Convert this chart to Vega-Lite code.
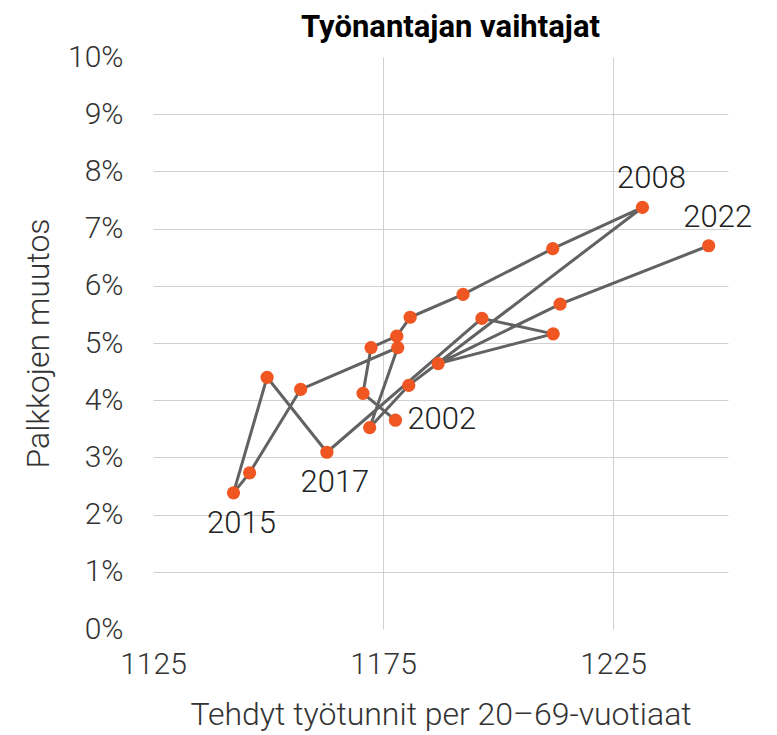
{
  "$schema": "https://vega.github.io/schema/vega-lite/v6.json",
  "width": 575,
  "height": 572,
  "autosize": {"type": "none"},
  "padding": {"left": 153, "top": 57, "right": 49, "bottom": 106},
  "background": "white",
  "title": {
    "text": "Työnantajan vaihtajat",
    "font": "Roboto",
    "fontSize": 31,
    "fontWeight": "bold",
    "color": "#000000",
    "anchor": "middle",
    "baseline": "alphabetic",
    "offset": 19,
    "dx": 10,
    "dy": 45
  },
  "config": {
    "view": {"stroke": null},
    "font": "Roboto",
    "axis": {
      "labelFont": "Roboto",
      "labelFontWeight": 300,
      "labelFontSize": 30,
      "labelColor": "#333333",
      "titleFont": "Roboto",
      "titleFontWeight": 300,
      "titleFontSize": 32,
      "titleColor": "#333333",
      "domain": false,
      "ticks": false,
      "gridColor": "#d0d0d0",
      "gridWidth": 1
    }
  },
  "data": {
    "values": [
      {"jarjestys": 0, "tunnit": 1177.7, "muutos": 3.65, "nimi": "2002"},
      {"jarjestys": 1, "tunnit": 1170.65, "muutos": 4.12, "nimi": ""},
      {"jarjestys": 2, "tunnit": 1172.4, "muutos": 4.92, "nimi": ""},
      {"jarjestys": 3, "tunnit": 1178.0, "muutos": 5.12, "nimi": ""},
      {"jarjestys": 4, "tunnit": 1180.9, "muutos": 5.45, "nimi": ""},
      {"jarjestys": 5, "tunnit": 1192.4, "muutos": 5.85, "nimi": ""},
      {"jarjestys": 6, "tunnit": 1211.9, "muutos": 6.65, "nimi": ""},
      {"jarjestys": 7, "tunnit": 1231.4, "muutos": 7.37, "nimi": "2008"},
      {"jarjestys": 8, "tunnit": 1180.6, "muutos": 4.26, "nimi": ""},
      {"jarjestys": 9, "tunnit": 1172.1, "muutos": 3.52, "nimi": ""},
      {"jarjestys": 10, "tunnit": 1178.2, "muutos": 4.92, "nimi": ""},
      {"jarjestys": 11, "tunnit": 1157.1, "muutos": 4.19, "nimi": ""},
      {"jarjestys": 12, "tunnit": 1146.0, "muutos": 2.73, "nimi": ""},
      {"jarjestys": 13, "tunnit": 1142.5, "muutos": 2.38, "nimi": "2015"},
      {"jarjestys": 14, "tunnit": 1149.8, "muutos": 4.40, "nimi": ""},
      {"jarjestys": 15, "tunnit": 1162.8, "muutos": 3.09, "nimi": "2017"},
      {"jarjestys": 16, "tunnit": 1196.5, "muutos": 5.43, "nimi": ""},
      {"jarjestys": 17, "tunnit": 1212.0, "muutos": 5.16, "nimi": ""},
      {"jarjestys": 18, "tunnit": 1187.0, "muutos": 4.64, "nimi": ""},
      {"jarjestys": 19, "tunnit": 1213.5, "muutos": 5.68, "nimi": ""},
      {"jarjestys": 20, "tunnit": 1245.8, "muutos": 6.70, "nimi": "2022"}
    ]
  },
  "encoding": {
    "x": {
      "field": "tunnit",
      "type": "quantitative",
      "scale": {"domain": [1125, 1250], "nice": false, "zero": false},
      "axis": {
        "title": "Tehdyt työtunnit per 20–69-vuotiaat",
        "values": [1125, 1175, 1225],
        "format": "d",
        "labelPadding": 20,
        "titlePadding": 20,
        "labelFlush": false,
        "gridOpacity": {"condition": {"test": "datum.value == 1125", "value": 0}, "value": 1}
      }
    },
    "y": {
      "field": "muutos",
      "type": "quantitative",
      "scale": {"domain": [0, 10], "nice": false},
      "axis": {
        "title": "Palkkojen muutos",
        "values": [0, 1, 2, 3, 4, 5, 6, 7, 8, 9, 10],
        "labelExpr": "datum.value + '%'",
        "labelPadding": 30,
        "titlePadding": 12,
        "labelFlush": false,
        "gridOpacity": {"condition": {"test": "datum.value == 0 || datum.value == 10", "value": 0}, "value": 1}
      }
    }
  },
  "layer": [
    {
      "mark": {"type": "line", "color": "#626262", "strokeWidth": 3},
      "encoding": {"order": {"field": "jarjestys", "type": "quantitative"}}
    },
    {
      "mark": {"type": "circle", "color": "#F05622", "opacity": 1, "size": 175}
    },
    {
      "transform": [{"filter": "datum.nimi == '2008' || datum.nimi == '2022'"}],
      "mark": {"type": "text", "font": "Roboto", "fontWeight": 300, "fontSize": 31, "color": "#222222", "dx": 9, "dy": -28, "baseline": "middle"},
      "encoding": {"text": {"field": "nimi"}}
    },
    {
      "transform": [{"filter": "datum.nimi == '2015' || datum.nimi == '2017'"}],
      "mark": {"type": "text", "font": "Roboto", "fontWeight": 300, "fontSize": 31, "color": "#222222", "dx": 8, "dy": 31, "baseline": "middle"},
      "encoding": {"text": {"field": "nimi"}}
    },
    {
      "transform": [{"filter": "datum.nimi == '2002'"}],
      "mark": {"type": "text", "font": "Roboto", "fontWeight": 300, "fontSize": 31, "color": "#222222", "dx": 12, "dy": 0, "align": "left", "baseline": "middle"},
      "encoding": {"text": {"field": "nimi"}}
    }
  ]
}
